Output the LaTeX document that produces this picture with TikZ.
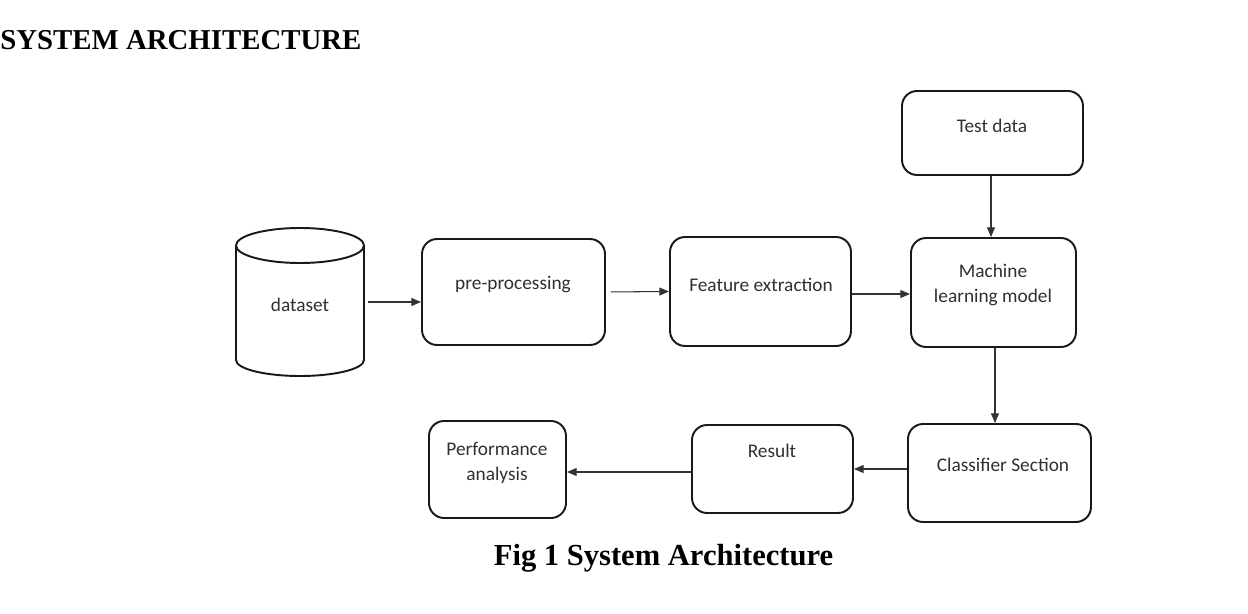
\documentclass[tikz,border=0pt]{standalone}
\usepackage{fontspec}
\setmainfont{Carlito}
\newfontfamily\titlefont{Liberation Serif}
\usetikzlibrary{arrows.meta}
\definecolor{txt}{HTML}{303030}
\tikzset{
  box/.style={draw=black!90, line width=1.1pt, rounded corners=0.3cm, inner sep=0pt},
  lbl/.style={text=txt, font=\fontsize{11}{14.7}\selectfont, align=center, inner sep=0pt},
  arr/.style={draw=black!80, line width=0.6pt, -{Triangle[length=5.5pt,width=4.5pt]}},
  cyl/.style={draw=black!90, line width=1.1pt},
  ttl/.style={font=\titlefont\bfseries\fontsize{16.4}{20}\selectfont, inner sep=0pt},
  captn/.style={font=\titlefont\bfseries\fontsize{17.4}{20}\selectfont, inner sep=0pt}
}
\begin{document}
\begin{tikzpicture}[x=0.02cm, y=-0.02cm]
\useasboundingbox (0,0) rectangle (1248,614);
% title
\node[ttl, anchor=west] (title) at (0,40) {SYSTEM ARCHITECTURE};
% dataset cylinder
\draw[cyl] (300,245.5) ellipse [x radius=1.28cm, y radius=0.35cm];
\draw[cyl] (236,245.5) -- (236,360) arc[start angle=180, end angle=360, x radius=1.28cm, y radius=0.32cm] -- (364,245.5);
\node[minimum width=2.56cm, minimum height=2.6cm, inner sep=0pt] (ds) at (300,302) {};
\node[lbl] (dsT) at (300,305) {dataset};
% boxes
\node[box, minimum width=3.66cm, minimum height=2.12cm] (pre) at (513.5,292) {};
\node[box, minimum width=3.62cm, minimum height=2.18cm] (feat) at (760.5,291.5) {};
\node[box, minimum width=3.30cm, minimum height=2.18cm] (ml) at (993.5,292.5) {};
\node[box, minimum width=3.62cm, minimum height=1.68cm] (test) at (992.5,133) {};
\node[box, minimum width=3.66cm, minimum height=1.96cm] (cls) at (999.5,473) {};
\node[box, minimum width=3.22cm, minimum height=1.76cm] (res) at (772.5,469) {};
\node[box, minimum width=2.74cm, minimum height=1.94cm] (perf) at (497.5,469.5) {};
% labels
\node[lbl] (preT) at (513,285) {pre-processing};
\node[lbl] (featT) at (761,285) {Feature extraction};
\node[lbl] (mlT) at (993,285) {Machine\\learning model};
\node[lbl] (testT) at (992,126) {Test data};
\node[lbl] (clsT) at (1003,465) {Classifier Section};
\node[lbl] (resT) at (772,451) {Result};
\node[lbl] (perfT) at (497,463) {Performance\\analysis};
% arrows
\draw[arr, shorten <=2.3pt] (ds.east) -- (pre.west |- ds.east);
\draw[arr, shorten <=2.8pt] (pre.east) -- (feat.west);
\draw[arr] (feat.east |- 0,294) -- (ml.west |- 0,294);
\draw[arr] (test.south -| 991,0) -- (ml.north -| 991,0);
\draw[arr] (ml.south -| 995,0) -- (cls.north -| 995,0);
\draw[arr] (cls.west |- res.east) -- (res.east);
\draw[arr] (res.west |- 0,472) -- (perf.east |- 0,472);
% caption
\node[captn] (cap) at (663.5,558) {Fig 1 System Architecture};
\end{tikzpicture}
\end{document}
